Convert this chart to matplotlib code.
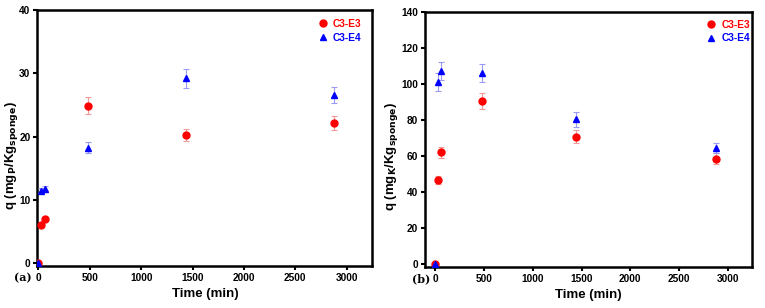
import numpy as np
import matplotlib
matplotlib.use("Agg")
import matplotlib.pyplot as plt

time = [0, 30, 60, 480, 1440, 2880]

# panel (a)
qa_e3 = [0, 6.0, 7.0, 24.9, 20.3, 22.2]
ea_e3 = [0, 0.3, 0.3, 1.3, 1.0, 1.1]
qa_e4 = [0, 11.5, 11.8, 18.3, 29.2, 26.6]
ea_e4 = [0, 0.4, 0.5, 0.9, 1.5, 1.3]

# panel (b)
qb_e3 = [0, 46.7, 62.0, 90.6, 70.7, 58.6]
eb_e3 = [0, 2.0, 3.0, 4.5, 3.5, 3.0]
qb_e4 = [0, 101.0, 107.0, 106.0, 80.3, 64.5]
eb_e4 = [0, 5.0, 5.0, 5.0, 4.0, 3.0]

plt.rcParams['font.family'] = ['Liberation Sans', 'DejaVu Sans']

W, H = 765., 308.
fig = plt.figure(figsize=(7.65, 3.08), dpi=100)
ax1 = fig.add_axes([0.0488, 0.1364, 0.438, 0.831])
ax2 = fig.add_axes([0.5556, 0.134, 0.427, 0.827])


def draw(ax, q3, e3, q4, e4, ylim, yticks, ylabel, ylab_x, tag, tag_x, xlim, leg_anchor):
    c3 = ax.errorbar(time, q3, yerr=e3, fmt='o', color='red', ms=5,
                     ecolor='#f29a9a', elinewidth=0.8, capsize=2, capthick=0.8,
                     zorder=3)
    c4 = ax.errorbar(time, q4, yerr=e4, fmt='^', color='blue', ms=5,
                     ecolor='#9a9af2', elinewidth=0.8, capsize=2, capthick=0.8,
                     zorder=3)
    ax.set_xlim(*xlim)
    ax.set_ylim(*ylim)
    ax.set_xticks([0, 500, 1000, 1500, 2000, 2500, 3000])
    ax.set_yticks(yticks)
    for s in ax.spines.values():
        s.set_linewidth(1.8)
    ax.tick_params(direction='out', width=1.5, length=3, labelsize=7.3, pad=2)
    for lab in ax.get_xticklabels() + ax.get_yticklabels():
        lab.set_fontweight('bold')
    ax.set_xlabel('Time (min)', fontsize=9.5, fontweight='bold', labelpad=4)
    fig.text(ylab_x / W, 1 - 156 / H, ylabel, rotation=90, ha='center', va='center',
             fontsize=9.5, fontweight='bold')
    leg = ax.legend([c3[0], c4[0]], ['C3-E3', 'C3-E4'], loc='upper right',
                    bbox_to_anchor=leg_anchor, frameon=False, fontsize=7.3,
                    handletextpad=0.4, handlelength=1.2, borderpad=0,
                    borderaxespad=0, labelspacing=0.35)
    for txt, c in zip(leg.get_texts(), ['red', 'blue']):
        txt.set_color(c)
        txt.set_fontweight('bold')
    ax.text(tag_x, -0.047, tag, transform=ax.transAxes, ha='right', va='center',
            fontsize=8, fontweight='bold', family='DejaVu Serif')


draw(ax1, qa_e3, ea_e3, qa_e4, ea_e4, (-0.4, 40), [0, 10, 20, 30, 40],
     r'q (mg$_\mathbf{P}$/Kg$_\mathbf{sponge}$)', 12, '(a)', -0.016,
     (-10, 3250), (0.968, 0.965))
draw(ax2, qb_e3, eb_e3, qb_e4, eb_e4, (-1.5, 140), [0, 20, 40, 60, 80, 100, 120, 140],
     r'q (mg$_\mathbf{K}$/Kg$_\mathbf{sponge}$)', 392, '(b)', 0.015,
     (-105, 3245), (0.995, 0.97))

fig.savefig('out.png', dpi=100)
